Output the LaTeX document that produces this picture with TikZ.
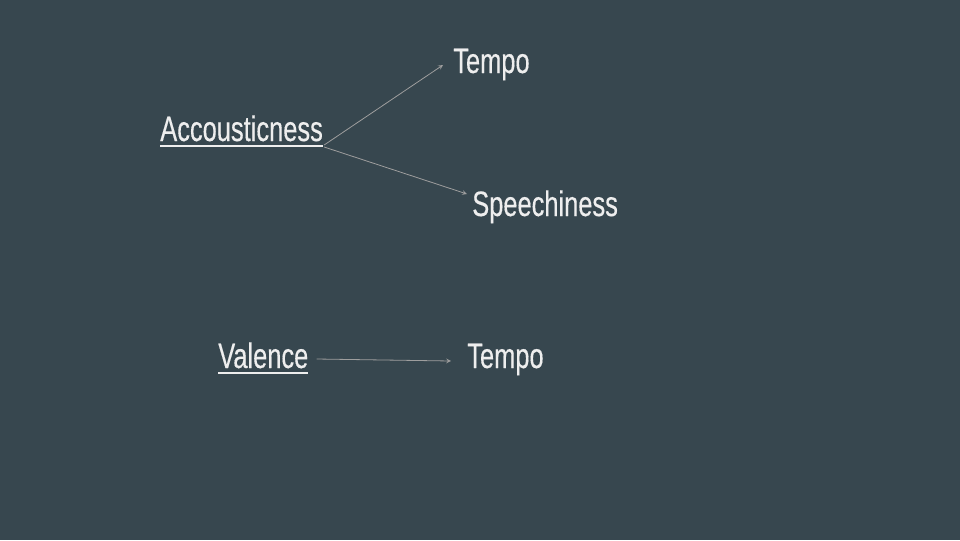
\documentclass[tikz,border=0pt]{standalone}
\usepackage{fontspec}
\setmainfont[FakeStretch=0.72, FakeBold=0.3]{Liberation Sans}
\usepackage{tikz}
\usetikzlibrary{calc,arrows}

\definecolor{slate}{HTML}{37474F}
\definecolor{label}{HTML}{EEEEEE}
\definecolor{link}{HTML}{9E9E9E}

\newcommand{\lined}[1]{\vtop{\hbox{#1}\kern2.6pt\hrule height 1.5pt}}

\tikzset{
    word/.style={text=label, inner sep=0pt, anchor=base west, font=\fontsize{26.5}{30}\selectfont},
    link/.style={draw=link, line width=0.6pt, -stealth}
}

\begin{document}
\begin{tikzpicture}[x=0.75pt, y=-0.75pt]
            \fill[slate] (0, 0) rectangle (960, 540);
            \useasboundingbox (0, 0) rectangle (960, 540);
            \node[word] (acc) at (160, 141) {\lined{Accousticness}};
            \node[word] (tempoA) at (453, 73) {Tempo};
            \node[word] (speech) at (472, 216) {Speechiness};
            \node[word] (val) at (218, 368) {\lined{Valence}};
            \node[word] (tempoB) at (467, 368) {Tempo};
            \draw[link] ($(acc.base east)+(1, 4)$) -- ($(tempoA.base west)+(-10, -8)$);
            \draw[link] ($(acc.base east)+(1, 6)$) -- ($(speech.base west)+(-5, -22)$);
            \draw[link] ($(val.base east)+(8, -9)$) -- ($(tempoB.base west)+(-16, -7)$);
        \end{tikzpicture}
\end{document}
